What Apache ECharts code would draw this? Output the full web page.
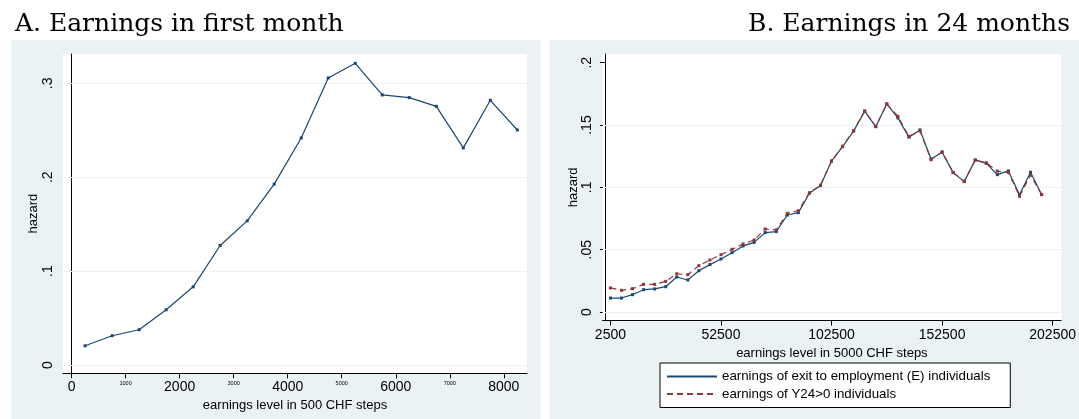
<!DOCTYPE html>
<html><head><meta charset="utf-8">
<script src="https://cdn.jsdelivr.net/npm/echarts@6/dist/echarts.min.js"></script>
<style>html,body{margin:0;padding:0;background:#fff}#c{width:1079px;height:419px}</style>
</head><body><div id="c"></div>
<script>
// ---- Panel A: earnings in first month (500 CHF steps) ----
const earningsA = [250, 750, 1250, 1750, 2250, 2750, 3250, 3750, 4250, 4750, 5250, 5750, 6250, 6750, 7250, 7750, 8250];
const hazardA = [0.0205, 0.0312, 0.0376, 0.0588, 0.0833, 0.1273, 0.1535, 0.1926, 0.2418, 0.3057, 0.3213, 0.2876, 0.2848, 0.2755, 0.2312, 0.2819, 0.2503];
const xTicksA = [0, 1000, 2000, 3000, 4000, 5000, 6000, 7000, 8000];
const yTicksA = [0, 0.1, 0.2, 0.3];

// ---- Panel B: earnings in 24 months (5000 CHF steps) ----
const earningsB = [2500, 7500, 12500, 17500, 22500, 27500, 32500, 37500, 42500, 47500,
  52500, 57500, 62500, 67500, 72500, 77500, 82500, 87500, 92500, 97500,
  102500, 107500, 112500, 117500, 122500, 127500, 132500, 137500, 142500, 147500,
  152500, 157500, 162500, 167500, 172500, 177500, 182500, 187500, 192500, 197500];
const hazardE = [0.0112, 0.0112, 0.0139, 0.0179, 0.0185, 0.0203, 0.0281, 0.0257, 0.0331, 0.0380,
  0.0425, 0.0476, 0.0530, 0.0559, 0.0637, 0.0645, 0.0778, 0.0797, 0.0953, 0.1014,
  0.1210, 0.1327, 0.1452, 0.1612, 0.1487, 0.1669, 0.1557, 0.1403, 0.1461, 0.1228,
  0.1282, 0.1118, 0.1046, 0.1220, 0.1193, 0.1102, 0.1132, 0.0940, 0.1121, 0.0942];
const hazardY24 = [0.0193, 0.0174, 0.0187, 0.0222, 0.0222, 0.0246, 0.0307, 0.0299, 0.0372, 0.0417,
  0.0460, 0.0503, 0.0546, 0.0578, 0.0666, 0.0658, 0.0792, 0.0813, 0.0957, 0.1018,
  0.1212, 0.1330, 0.1455, 0.1612, 0.1490, 0.1669, 0.1570, 0.1410, 0.1452, 0.1222,
  0.1285, 0.1120, 0.1048, 0.1218, 0.1197, 0.1130, 0.1120, 0.0928, 0.1100, 0.0942];
const xTicksB = [2500, 52500, 102500, 152500, 202500];
const yTicksB = [0, 0.05, 0.1, 0.15, 0.2];

const titleA = 'A. Earnings in first month';
const titleB = 'B. Earnings in 24 months';
const xNameA = 'earnings level in 500 CHF steps';
const xNameB = 'earnings level in 5000 CHF steps';
const yName = 'hazard';
const nameE = 'earnings of exit to employment (E) individuals';
const nameY24 = 'earnings of Y24>0 individuals';

const BG = '#EAF2F3', BLUE = '#1a476f', RED = '#90353b';
const FONT = 'Liberation Sans';

const chart = echarts.init(document.getElementById('c'), null, {renderer: 'canvas', width: 1079, height: 419});

function fmtY(v) {
  if (v === 0) return '0';
  return String(+v.toFixed(3)).replace(/^0\./, '.');
}
function yAxisOpt(idx, min, max, ticks) {
  return {
    type: 'value', gridIndex: idx, min: min, max: max,
    name: yName, nameLocation: 'middle', nameRotate: 90, nameGap: 23,
    nameTextStyle: {fontFamily: FONT, fontSize: 13, color: '#000'},
    axisLine: {show: true, lineStyle: {color: '#000', width: 1}},
    axisTick: {show: true, length: 5, customValues: ticks, lineStyle: {color: '#000'}},
    axisLabel: {customValues: ticks, rotate: 90, margin: 8, fontFamily: FONT, fontSize: 14, color: '#000', formatter: fmtY},
    splitLine: {show: false}
  };
}
function xAxisOpt(idx, min, max, ticks, name, fmt) {
  return {
    type: 'value', gridIndex: idx, min: min, max: max,
    name: name, nameLocation: 'middle', nameGap: 22,
    nameTextStyle: {fontFamily: FONT, fontSize: 13, color: '#000'},
    axisLine: {show: true, onZero: false, lineStyle: {color: '#000', width: 1}},
    axisTick: {show: true, length: 5, customValues: ticks, lineStyle: {color: '#000'}},
    axisLabel: {customValues: ticks, margin: 7, fontFamily: FONT, fontSize: 14, color: '#000', formatter: fmt,
      rich: {big: {fontFamily: FONT, fontSize: 14, color: '#000'}, small: {fontFamily: FONT, fontSize: 5.5, color: '#000'}}},
    splitLine: {show: false}
  };
}
// light horizontal grid lines at the labelled ticks (not at the top edge of the plot region)
function gridLines(ticks, top) {
  return {silent: true, symbol: 'none', label: {show: false}, animation: false, z: 1,
    lineStyle: {color: BG, type: 'solid', width: 1.2},
    data: ticks.filter(v => v < top - 1e-9).map(v => ({yAxis: v}))};
}

const option = {
  animation: false,
  backgroundColor: '#fff',
  graphic: [
    {type: 'rect', z: -10, shape: {x: 11.5, y: 40, width: 529, height: 379}, style: {fill: BG}, silent: true},
    {type: 'rect', z: -10, shape: {x: 549.5, y: 40, width: 530, height: 379}, style: {fill: BG}, silent: true}
  ],
  title: [
    {text: titleA, left: 10, top: 7, textStyle: {fontFamily: 'DejaVu Serif', fontWeight: 'normal', fontSize: 25, color: '#000'}},
    {text: titleB, right: 4, top: 7, textStyle: {fontFamily: 'DejaVu Serif', fontWeight: 'normal', fontSize: 25, color: '#000'}}
  ],
  grid: [
    {left: 63, top: 54, width: 464, height: 319.3, show: true, backgroundColor: '#fff', borderWidth: 0},
    {left: 602.6, top: 54, width: 463.4, height: 266.7, show: true, backgroundColor: '#fff', borderWidth: 0}
  ],
  xAxis: [
    xAxisOpt(0, -159, 8429, xTicksA, xNameA, v => (v % 2000 === 0 ? '{big|' + v + '}' : '{small|' + v + '}')),
    xAxisOpt(1, -1035, 206350, xTicksB, xNameB, v => '{big|' + v + '}')
  ],
  yAxis: [
    yAxisOpt(0, -0.0088, 0.3312, yTicksA),
    yAxisOpt(1, -0.00698, 0.2070, yTicksB)
  ],
  legend: {
    show: true, orient: 'vertical', left: 660, top: 363,
    data: [nameE, nameY24], selectedMode: false,
    backgroundColor: '#fff', borderColor: '#000', borderWidth: 1, borderRadius: 0,
    padding: [7, 20, 7, 6], itemWidth: 50, itemHeight: 14, itemGap: 4.5,
    itemStyle: {opacity: 0},
    textStyle: {fontFamily: FONT, fontSize: 13.3, color: '#000'}
  },
  series: [
    {type: 'line', xAxisIndex: 0, yAxisIndex: 0, data: [], z: 1, markLine: gridLines(yTicksA, 0.3312), silent: true},
    {type: 'line', xAxisIndex: 1, yAxisIndex: 1, data: [], z: 1, markLine: gridLines(yTicksB, 0.2), silent: true},
    {type: 'line', name: 'A', xAxisIndex: 0, yAxisIndex: 0, z: 3,
      data: earningsA.map((x, i) => [x, hazardA[i]]),
      symbol: 'rect', symbolSize: 3, showSymbol: true,
      lineStyle: {color: BLUE, width: 1.2}, itemStyle: {color: BLUE}},
    {type: 'line', name: nameE, xAxisIndex: 1, yAxisIndex: 1, z: 3,
      data: earningsB.map((x, i) => [x, hazardE[i]]),
      symbol: 'rect', symbolSize: 3, showSymbol: true,
      lineStyle: {color: BLUE, width: 1.2}, itemStyle: {color: BLUE}},
    {type: 'line', name: nameY24, xAxisIndex: 1, yAxisIndex: 1, z: 4,
      data: earningsB.map((x, i) => [x, hazardY24[i]]),
      symbol: 'rect', symbolSize: 3, showSymbol: true,
      lineStyle: {color: RED, width: 1.2, type: [6, 4]}, itemStyle: {color: RED}}
  ]
};
chart.setOption(option);
</script>
</body></html>
